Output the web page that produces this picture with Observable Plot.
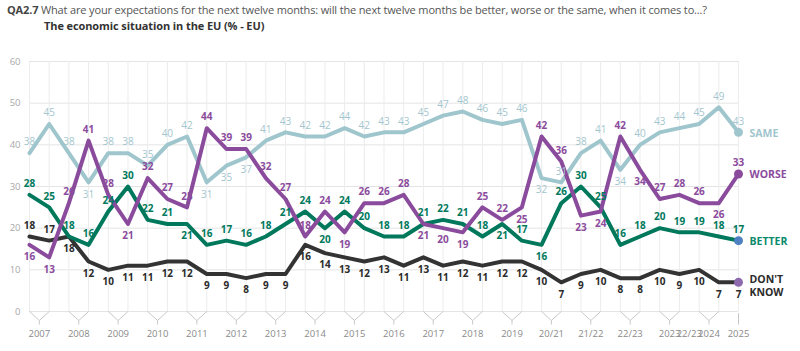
<!DOCTYPE html>
<html>
<head>
<meta charset="utf-8">
<script src="https://cdn.jsdelivr.net/npm/d3@7"></script>
<script src="https://cdn.jsdelivr.net/npm/@observablehq/plot@0.6"></script>
<style>
  body { margin: 0; background: #fff; font-family: "Open Sans", sans-serif; }
  #title { position: relative; width: 800px; height: 45px; }
  #t1 { position: absolute; left: 7px; top: 2px; font-size: 11px; color: #555; white-space: nowrap; letter-spacing: -0.15px; }
  #t1 b { color: #444; }
  #t2 { position: absolute; left: 44px; top: 18px; font-size: 11px; font-weight: bold; color: #333; white-space: nowrap; letter-spacing: -0.1px; }
</style>
</head>
<body>
<div id="title">
  <div id="t1"><b>QA2.7</b> What are your expectations for the next twelve months: will the next twelve months be better, worse or the same, when it comes to...?</div>
  <div id="t2">The economic situation in the EU (% - EU)</div>
</div>
<div id="chart"></div>
<script>
// Survey waves grouped by period label (tick labels)
const waveGroups = [
  "2007","2007","2008","2008","2009","2009","2010","2010","2011","2011",
  "2012","2012","2013","2013","2014","2014","2015","2015","2016","2016",
  "2017","2017","2018","2018","2019","2019","20/21","20/21","21/22","21/22",
  "22/23","22/23","2023","2023","2024","2024","2025"
];
const extraTickLabel = "22/23";

const seriesNames = ["SAME", "WORSE", "BETTER", "DON'T KNOW"];
const same = [38,45,38,31,38,38,35,40,42,31,35,37,41,43,42,42,44,42,43,43,45,47,48,46,45,46,32,31,38,41,34,40,43,44,45,49,43];
const worse = [16,13,26,41,28,21,32,27,25,44,39,39,32,27,18,24,19,26,26,28,21,20,19,25,22,25,42,36,23,24,42,34,27,28,26,26,33];
const better = [28,25,18,16,24,30,22,21,21,16,17,16,18,21,24,20,24,20,18,18,21,22,21,18,21,17,16,26,30,25,16,18,20,19,19,18,17];
const dontKnow = [18,17,18,12,10,11,11,12,12,9,9,8,9,9,16,14,13,12,13,11,13,11,12,11,12,12,10,7,9,10,8,8,10,9,10,7,7];
const yTicks = [0,10,20,30,40,50,60];

// ---- styling / layout ----
const styles = {
  "SAME":       {values: same,     line: "#9fc5cd", label: "#a3c6ce", weight: "normal", dot: "#9fc5cd", name: "#9fc5cd", nameDy: 0,
                 side: "aaab" + "aaaaa" + "bbb" + "aaaaaaaaaaaaaa" + "b" + "aaa" + "b" + "aaaaaa"},
  "WORSE":      {values: worse,    line: "#8b4b9d", label: "#8b4b9d", weight: "bold", dot: "#8b4b9d", name: "#8b4b9d", nameDy: 0,
                 side: "bbaaa" + "baaaa" + "aaaaa" + "abaaa" + "bbbaa" + "baabb" + "abaaa" + "ba"},
  "BETTER":     {values: better,   line: "#00785b", label: "#00795c", weight: "bold", dot: "#4f80c2", name: "#0b8a6c", nameDy: 0,
                 side: "aaaaa" + "aaaba" + "aaaaa" + "baaaa" + "aaaab" + "abaaa" + "aaaaa" + "aa"},
  "DON'T KNOW": {values: dontKnow, line: "#333333", label: "#2b2b2b", weight: "bold", dot: "#8d69ae", name: "#2b2b2b", nameDy: 3,
                 side: "aa" + "b".repeat(35)}
};
const drawOrder = ["SAME", "DON'T KNOW", "BETTER", "WORSE"];

const n = same.length;
const idx = d3.range(n);
const rows = {};
for (const k of seriesNames) {
  rows[k] = styles[k].values.map((v, i) => ({key: k, i, v, side: styles[k].side[i]}));
}

// group tick positions
const groups = [];
waveGroups.forEach((g, i) => {
  const last = groups[groups.length - 1];
  if (last && last.label === g) last.end = i;
  else groups.push({label: g, start: i, end: i});
});
groups.forEach(g => g.mid = (g.start + g.end) / 2);
const g2023 = groups.find(g => g.label === "2023");
const tickLabels = groups.map(g => ({label: g.label, x: g.mid}))
  .concat([{label: extraTickLabel, x: g2023.end + 0.5}]);

// bracket geometry (in y units below zero)
const pxPerUnit = 250 / 60;
const bDepth = -9 / pxPerUnit, bTail = -13 / pxPerUnit;
const bracketLinks = [];
for (const g of groups) {
  if (g.end > g.start) {
    bracketLinks.push({x1: g.start, y1: 0, x2: g.mid, y2: bDepth});
    bracketLinks.push({x1: g.end, y1: 0, x2: g.mid, y2: bDepth});
    bracketLinks.push({x1: g.mid, y1: bDepth, x2: g.mid, y2: bTail});
  } else {
    bracketLinks.push({x1: g.mid, y1: -0.4, x2: g.mid, y2: bTail});
  }
}

const marks = [
  Plot.ruleY(yTicks, {stroke: "#e4e4e4", strokeWidth: 1}),
  Plot.ruleX(idx, {y1: 0, y2: 60, stroke: "#ececec", strokeWidth: 1}),
  Plot.text(yTicks, {x: 0, y: d => d, text: d => String(d), dx: -9, textAnchor: "end", fill: "#a8a8a8", fontSize: 9.5}),
  Plot.link(bracketLinks, {x1: "x1", y1: "y1", x2: "x2", y2: "y2", stroke: "#c8c8c8", strokeWidth: 1}),
  Plot.text(tickLabels, {x: "x", y: 0, text: "label", dy: 22, fill: "#8a8a8a", fontSize: 9.5})
];

for (const k of drawOrder) {
  marks.push(Plot.line(rows[k], {x: "i", y: "v", stroke: styles[k].line, strokeWidth: 4, strokeLinejoin: "round", strokeLinecap: "round"}));
}
for (const k of drawOrder) {
  const s = styles[k];
  const last = rows[k][n - 1];
  marks.push(Plot.dot([last], {x: "i", y: "v", r: 4.5, fill: s.dot, stroke: "none"}));
  marks.push(Plot.text(rows[k].filter(d => d.side === "a"), {x: "i", y: "v", text: d => String(d.v), dy: -11, fill: s.label, fontWeight: s.weight, fontSize: 10}));
  marks.push(Plot.text(rows[k].filter(d => d.side === "b"), {x: "i", y: "v", text: d => String(d.v), dy: 12, fill: s.label, fontWeight: s.weight, fontSize: 10}));
  marks.push(Plot.text([last], {x: "i", y: "v", text: d => d.key === "DON'T KNOW" ? "DON'T\nKNOW" : d.key,
    dx: 11, dy: s.nameDy, textAnchor: "start", fill: s.name, fontWeight: "bold", fontSize: 10.5, lineHeight: 1.25}));
}

const chart = Plot.plot({
  width: 800,
  height: 306,
  marginLeft: 29,
  marginRight: 62,
  marginTop: 16,
  marginBottom: 40,
  x: {domain: [0, n - 1], axis: null},
  y: {domain: [0, 60], axis: null},
  style: {fontFamily: "'Open Sans', sans-serif", background: "#fff", overflow: "visible"},
  marks
});
document.getElementById("chart").append(chart);
</script>
</body>
</html>
